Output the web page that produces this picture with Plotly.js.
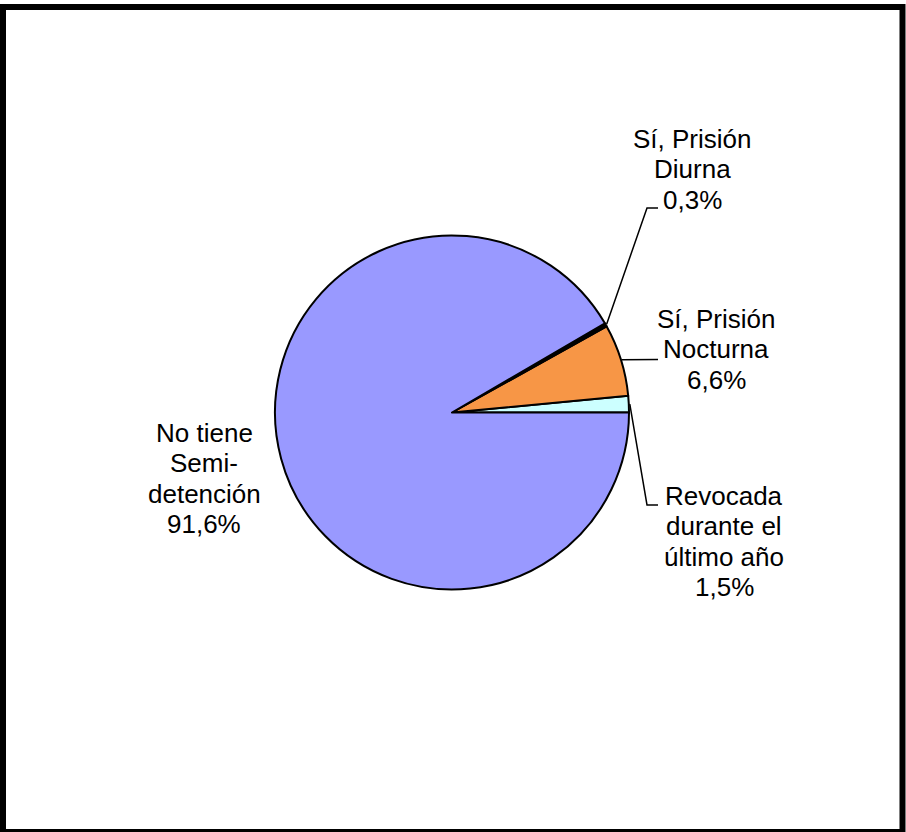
<!DOCTYPE html>
<html>
<head>
<meta charset="utf-8">
<script src="https://cdn.plot.ly/plotly-3.0.1.min.js"></script>
<style>
  html, body { margin: 0; padding: 0; background: #ffffff; }
  #chart { width: 906px; height: 832px; }
</style>
</head>
<body>
<div id="chart"></div>
<script>
// ---- data ----
const categories = ['Revocada durante el último año', 'Sí, Prisión Nocturna', 'Sí, Prisión Diurna', 'No tiene Semi-detención'];
const values = [1.5, 6.6, 0.3, 91.6];
const labelLines = [
  ['Revocada', 'durante el', 'último año'],
  ['Sí, Prisión', 'Nocturna'],
  ['Sí, Prisión', 'Diurna'],
  ['No tiene', 'Semi-', 'detención']
];
const pctLabels = ['1,5%', '6,6%', '0,3%', '91,6%'];
const colors = ['#CCFFFF', '#F79646', '#000000', '#9999FF'];

// ---- layout geometry (pixels) ----
const W = 906, H = 832;
const cx = 452, cy = 412.5, R = 177;
// label block: centre x, first baseline y
const labelPos = [[724, 505], [716, 328], [692, 148], [204, 442]];
// leader-line elbow points (bend, end) or null
const leaderElbow = [[[647, 505], [658, 505]], [[658, 359.5], [658, 359.5]], [[647, 208], [658, 208]], null];
const lineGap = 30.5;
const fontSize = 26;

const px = x => x / W;
const py = y => 1 - y / H;

const annotations = [];
const shapes = [];
const total = values.reduce((a, b) => a + b, 0);
let cum = 0;
values.forEach((v, i) => {
  const midFrac = (cum + v / 2) / total;
  cum += v;
  const ang = midFrac * 2 * Math.PI; // counterclockwise from 3 o'clock
  const ex = cx + (R + 1) * Math.cos(ang);
  const ey = cy - (R + 1) * Math.sin(ang);
  const lines = labelLines[i].concat([pctLabels[i]]);
  const [lx, ly] = labelPos[i];
  lines.forEach((t, k) => {
    const baseline = ly + k * lineGap;
    annotations.push({
      xref: 'paper', yref: 'paper',
      x: px(lx), y: py(baseline - 0.35 * fontSize),
      xanchor: 'center', yanchor: 'middle',
      text: t, showarrow: false,
      font: { family: 'Liberation Sans, Arial, sans-serif', size: fontSize, color: '#000000' }
    });
  });
  if (leaderElbow[i]) {
    const [b, e] = leaderElbow[i];
    shapes.push({
      type: 'path', xref: 'paper', yref: 'paper',
      path: `M ${px(ex)} ${py(ey)} L ${px(b[0])} ${py(b[1])} L ${px(e[0])} ${py(e[1])}`,
      line: { color: '#000000', width: 1.5 }
    });
  }
});

// outer frame
shapes.push({
  type: 'rect', xref: 'paper', yref: 'paper',
  x0: px(3), x1: px(902.5), y0: py(7), y1: py(832),
  line: { color: '#000000', width: 6 }, fillcolor: 'rgba(0,0,0,0)'
});

// Plotly (counterclockwise) places the first slice clockwise of `rotation`;
// shift so the first slice starts at 3 o'clock and grows upward.
const startRotation = 90 - (values[0] / total) * 360;

const trace = {
  type: 'pie',
  labels: categories,
  values: values,
  sort: false,
  direction: 'counterclockwise',
  rotation: startRotation,
  textinfo: 'none',
  hoverinfo: 'label+percent',
  marker: { colors: colors, line: { color: '#000000', width: 2 } },
  domain: { x: [px(cx - R), px(cx + R)], y: [py(cy + R), py(cy - R)] },
  showlegend: false
};

const layout = {
  width: W, height: H,
  margin: { l: 0, r: 0, t: 0, b: 0 },
  paper_bgcolor: '#ffffff',
  showlegend: false,
  annotations: annotations,
  shapes: shapes
};

Plotly.newPlot('chart', [trace], layout, { displayModeBar: false, staticPlot: true });
</script>
</body>
</html>
